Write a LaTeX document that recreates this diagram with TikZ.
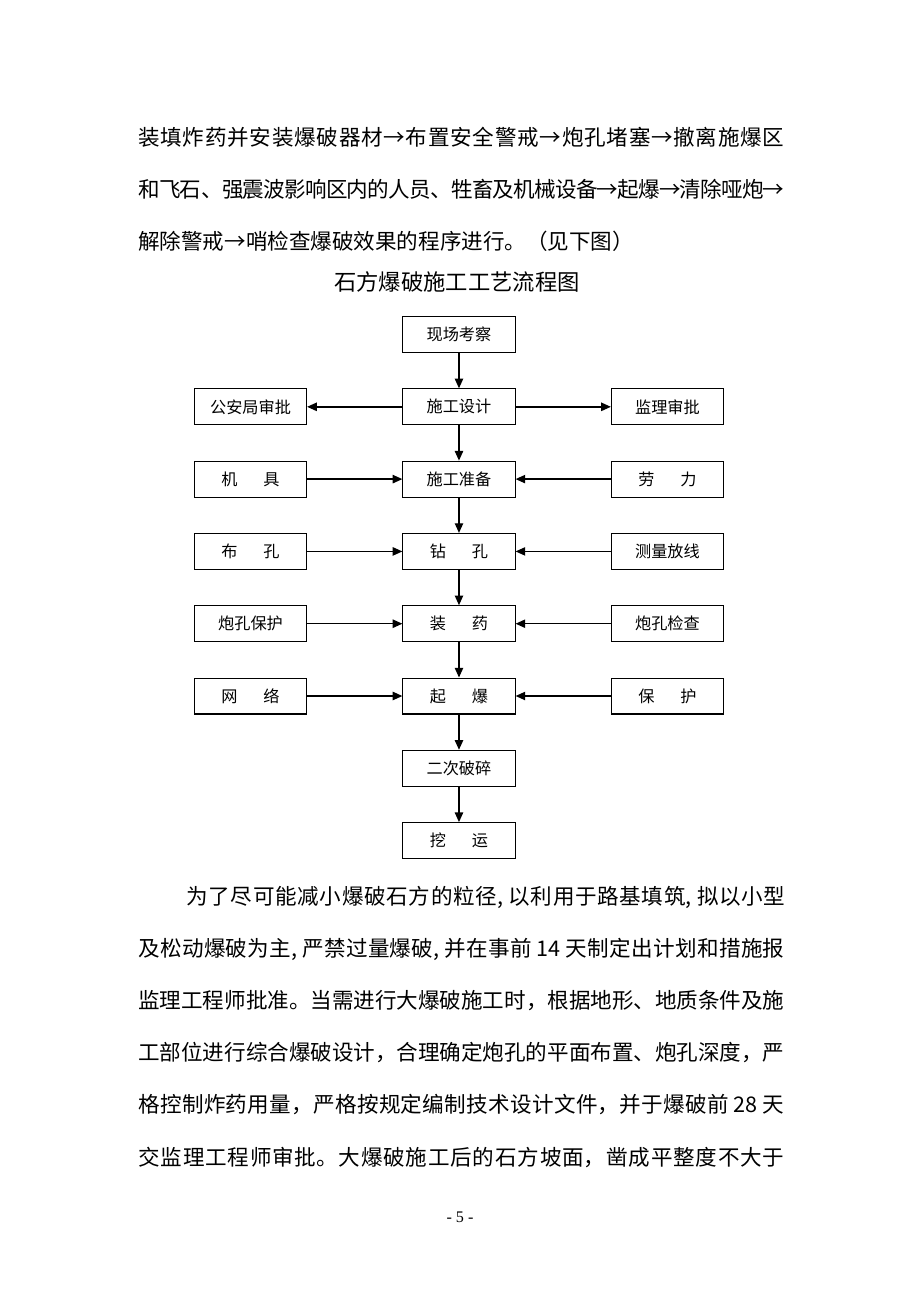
\documentclass[tikz,border=0pt]{standalone}
\usepackage{fontspec}
\setmainfont{Liberation Serif}
\newfontfamily\cjk{Noto Sans CJK SC}
\usepackage{tikz}
\usetikzlibrary{arrows.meta}
\XeTeXlinebreaklocale "zh"
\XeTeXlinebreakskip = 0pt plus 3pt minus 1pt

\newcommand{\bodyfont}{\cjk\fontsize{14pt}{20pt}\selectfont}
\newcommand{\boxfont}{\cjk\fontsize{10.5pt}{12pt}\selectfont}
\newcommand{\kong}{\hspace{1.6em}}

\tikzset{
  box/.style={draw, line width=0.7pt, minimum width=2.56cm, minimum height=0.82cm,
    inner sep=0pt, font=\boxfont},
  flow/.style={-{Triangle[length=2.2mm, width=1.9mm]}, line width=0.9pt},
  bodyline/.style={anchor=west, inner sep=0pt, text width=14.75cm, align=justify,
    font=\bodyfont},
  fullline/.style={bodyline, execute at begin node={\parfillskip=0pt\relax}},
}

\begin{document}
\begin{tikzpicture}
  \useasboundingbox[fill=white] (0,0) rectangle (21,-29.72);

  % Text above
  \node[fullline] (pa1) at (3.15,-3.127) {装填炸药并安装爆破器材→布置安全警戒→炮孔堵塞→撤离施爆区};
  \node[fullline] (pa2) at (3.15,-4.314) {和飞石、强震波影响区内的人员、牲畜及机械设备→起爆→清除哑炮→};
  \node[bodyline] (pa3) at (3.15,-5.501) {解除警戒→哨检查爆破效果的程序进行。（见下图）};

  % Title
  \node[font={\cjk\fontsize{14.5pt}{18pt}\selectfont}] (title) at (10.43,-6.437) {石方爆破施工工艺流程图};

  % Main column
  \node[box] (kc) at (10.477,-7.635) {现场考察};
  \node[box] (sj) at (10.477,-9.286) {施工设计};
  \node[box] (zb) at (10.477,-10.936) {施工准备};
  \node[box] (zk) at (10.477,-12.587) {钻\kong 孔};
  \node[box] (zy) at (10.477,-14.237) {装\kong 药};
  \node[box] (qb) at (10.477,-15.887) {起\kong 爆};
  \node[box] (ec) at (10.477,-17.537) {二次破碎};
  \node[box] (wy) at (10.477,-19.188) {挖\kong 运};
  % Left column
  \node[box] (gaj) at (5.718,-9.286) {公安局审批};
  \node[box] (jj) at (5.718,-10.936) {机\kong 具};
  \node[box] (bk) at (5.718,-12.587) {布\kong 孔};
  \node[box] (pb) at (5.718,-14.237) {炮孔保护};
  \node[box] (wl) at (5.718,-15.887) {网\kong 络};
  % Right column
  \node[box] (jl) at (15.236,-9.286) {监理审批};
  \node[box] (ll) at (15.236,-10.936) {劳\kong 力};
  \node[box] (cl) at (15.236,-12.587) {测量放线};
  \node[box] (pj) at (15.236,-14.237) {炮孔检查};
  \node[box] (bh) at (15.236,-15.887) {保\kong 护};

  % Arrows down
  \draw[flow] (kc) -- (sj);
  \draw[flow] (sj) -- (zb);
  \draw[flow] (zb) -- (zk);
  \draw[flow] (zk) -- (zy);
  \draw[flow] (zy) -- (qb);
  \draw[flow] (qb) -- (ec);
  \draw[flow] (ec) -- (wy);
  % Arrows sideways
  \draw[flow] (sj) -- (gaj);
  \draw[flow] (sj) -- (jl);
  \draw[flow] (jj) -- (zb);
  \draw[flow] (ll) -- (zb);
  \draw[flow] (bk) -- (zk);
  \draw[flow] (cl) -- (zk);
  \draw[flow] (pb) -- (zy);
  \draw[flow] (pj) -- (zy);
  \draw[flow] (wl) -- (qb);
  \draw[flow] (bh) -- (qb);

  % Text below
  \node[fullline, text width=13.67cm] (pb1) at (4.25,-20.475) {为了尽可能减小爆破石方的粒径, 以利用于路基填筑, 拟以小型};
  \node[fullline] (pb2) at (3.15,-21.662) {及松动爆破为主, 严禁过量爆破, 并在事前 14 天制定出计划和措施报};
  \node[fullline] (pb3) at (3.15,-22.849) {监理工程师批准。当需进行大爆破施工时，根据地形、地质条件及施};
  \node[fullline] (pb4) at (3.15,-24.036) {工部位进行综合爆破设计，合理确定炮孔的平面布置、炮孔深度，严};
  \node[fullline] (pb5) at (3.15,-25.223) {格控制炸药用量，严格按规定编制技术设计文件，并于爆破前 28 天};
  \node[fullline] (pb6) at (3.15,-26.41) {交监理工程师审批。大爆破施工后的石方坡面，凿成平整度不大于};

  % Page number
  \node[font=\fontsize{10.5pt}{12pt}\selectfont] (pg) at (10.5,-27.78) {- 5 -};
\end{tikzpicture}
\end{document}
